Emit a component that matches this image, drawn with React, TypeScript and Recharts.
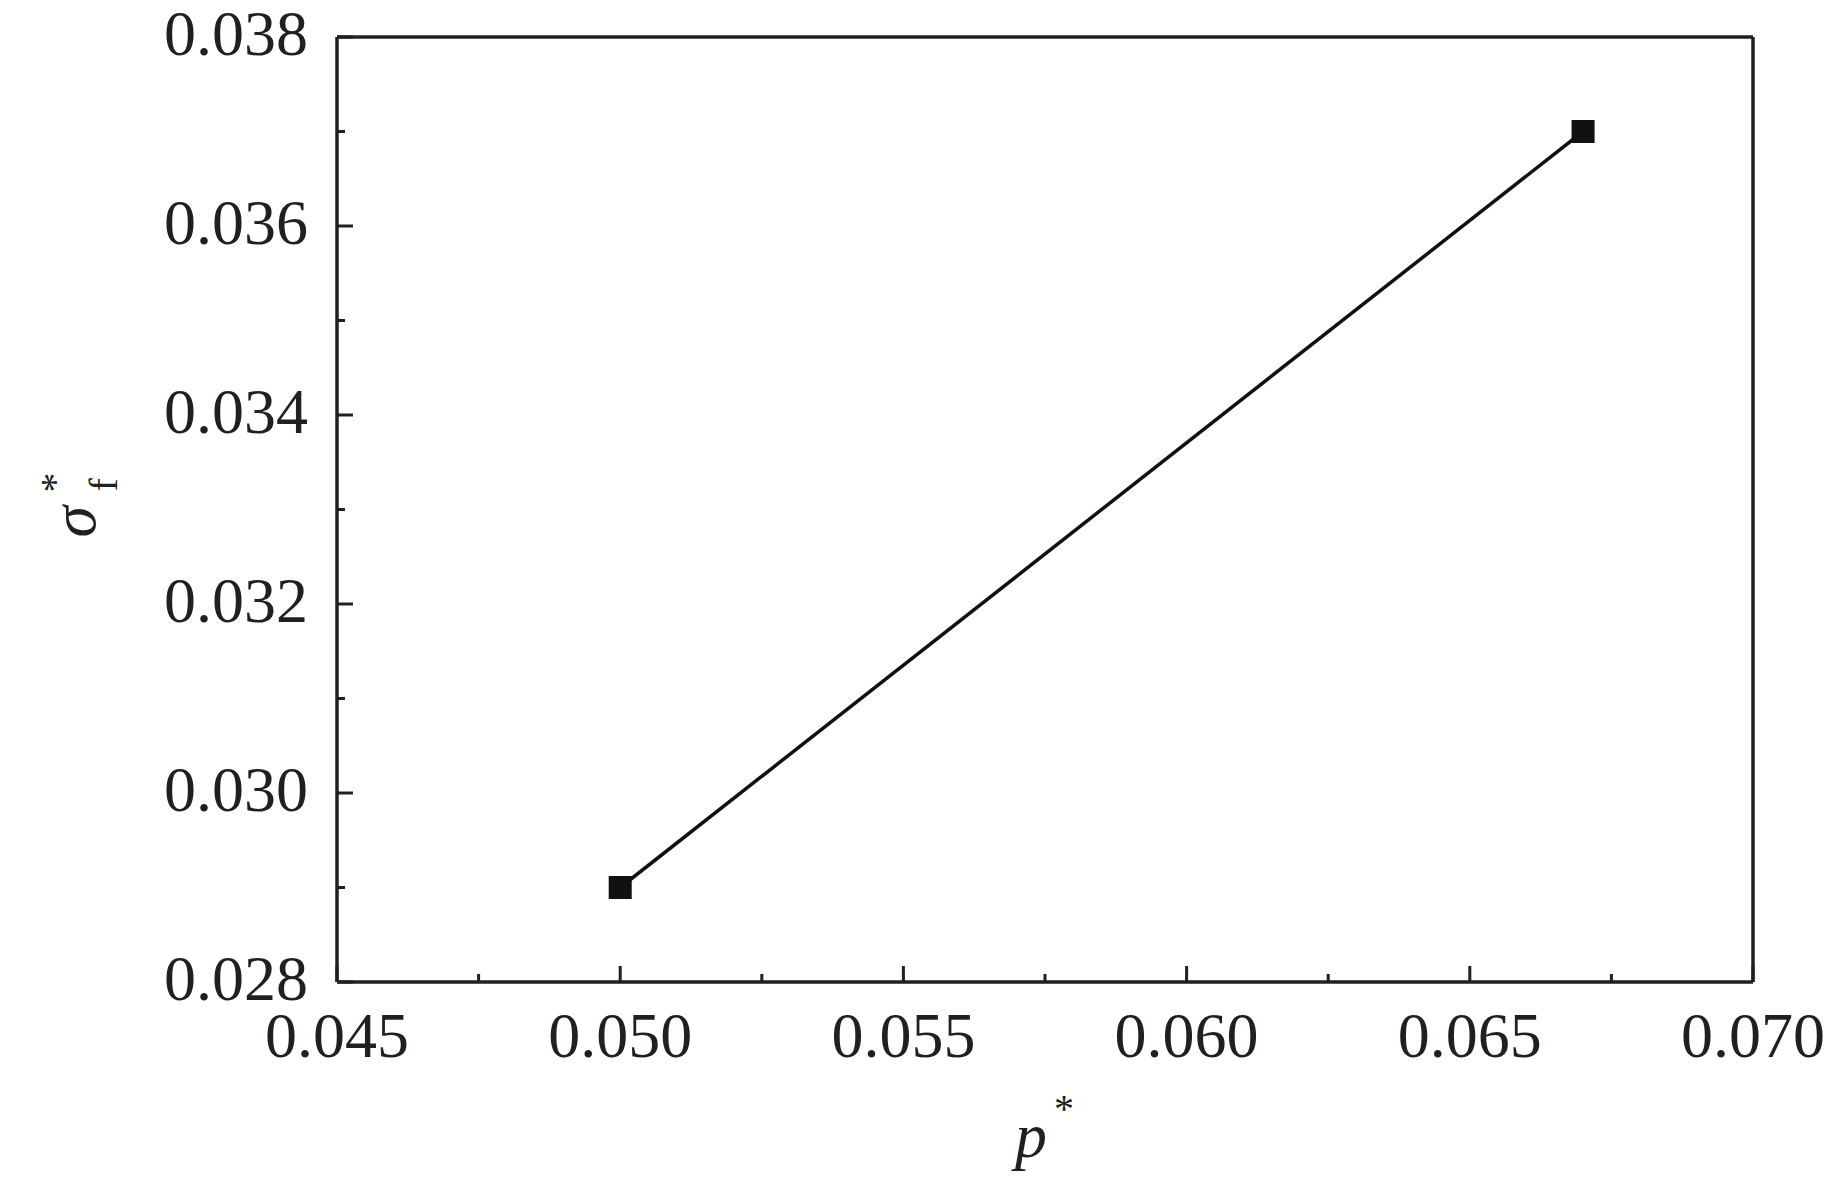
import { Line, LineChart, ReferenceLine, XAxis, YAxis } from "recharts";

const pStar = [0.05, 0.067];
const sigmaF = [0.029, 0.037];

const xMajor = [0.045, 0.05, 0.055, 0.06, 0.065, 0.07];
const xMinor = [0.0475, 0.0525, 0.0575, 0.0625, 0.0675];
const yMajor = [0.028, 0.03, 0.032, 0.034, 0.036, 0.038];
const yMinor = [0.029, 0.031, 0.033, 0.035, 0.037];

const data = pStar.map((p, i) => ({ p, s: sigmaF[i] }));

const INK = "#231f20";
const FONT = "'Liberation Serif', 'Times New Roman', serif";

const isMajor = (list: number[], v: number) =>
  list.some((m) => Math.abs(m - v) < 1e-9);

function XTick(props: any) {
  const { x, y, payload } = props;
  const major = isMajor(xMajor, payload.value);
  return (
    <g>
      <line x1={x} x2={x} y1={y} y2={y - (major ? 16 : 8)} stroke={INK} strokeWidth={3} />
      {major && (
        <text x={x} y={y + 75} textAnchor="middle" fontSize={64} fontFamily={FONT} fill={INK}>
          {payload.value.toFixed(3)}
        </text>
      )}
    </g>
  );
}

function YTick(props: any) {
  const { x, y, payload } = props;
  const major = isMajor(yMajor, payload.value);
  return (
    <g>
      <line x1={x} x2={x + (major ? 16 : 8)} y1={y} y2={y} stroke={INK} strokeWidth={3} />
      {major && (
        <text x={x - 29} y={y + 18} textAnchor="end" fontSize={64} fontFamily={FONT} fill={INK}>
          {payload.value.toFixed(3)}
        </text>
      )}
    </g>
  );
}

function SquareDot(props: any) {
  const { cx, cy } = props;
  if (cx == null || cy == null) return null;
  return <rect x={cx - 11.5} y={cy - 11.5} width={23} height={23} fill="#111" />;
}

function XLabel(props: any) {
  const vb = props.viewBox || { x: 0, y: 0, width: 0 };
  const cx = vb.x + vb.width / 2;
  return (
    <text fontFamily={FONT} fill={INK}>
      <tspan x={cx - 30} y={vb.y + 175} fontSize={64} fontStyle="italic">
        p
      </tspan>
      <tspan x={cx + 9} y={vb.y + 140} fontSize={40}>
        *
      </tspan>
    </text>
  );
}

function YLabel(props: any) {
  const vb = props.viewBox || { x: 0, y: 0, height: 0 };
  const cy = vb.y + vb.height / 2 + 7;
  return (
    <g transform={`translate(${vb.x - 42}, ${cy}) rotate(-90)`}>
      <text x={-21} y={0} fontSize={64} fontStyle="italic" fontFamily={FONT} fill={INK}>
        σ
      </text>
      <text x={24} y={-27} fontSize={40} fontFamily={FONT} fill={INK}>
        *
      </text>
      <text x={25} y={22} fontSize={40} fontFamily={FONT} fill={INK}>
        f
      </text>
    </g>
  );
}

export default function App() {
  return (
    <div style={{ width: 1827, height: 1169, background: "#fff" }}>
      <LineChart
        width={1827}
        height={1169}
        data={data}
        margin={{ top: 29, right: 82, bottom: 95, left: 129 }}
        style={{ overflow: "visible" }}
      >
        <XAxis
          dataKey="p"
          type="number"
          domain={[0.045, 0.07]}
          ticks={[...xMajor, ...xMinor].sort((a, b) => a - b)}
          interval={0}
          tickSize={0}
          tickMargin={0}
          tickLine={false}
          tick={<XTick />}
          axisLine={{ stroke: INK, strokeWidth: 3.5 }}
          height={100}
          allowDataOverflow
          label={<XLabel />}
        />
        <YAxis
          dataKey="s"
          type="number"
          domain={[0.028, 0.038]}
          ticks={[...yMajor, ...yMinor].sort((a, b) => a - b)}
          interval={0}
          tickSize={0}
          tickMargin={0}
          tickLine={false}
          tick={<YTick />}
          axisLine={{ stroke: INK, strokeWidth: 3.5 }}
          width={200}
          allowDataOverflow
          label={<YLabel />}
        />
        <ReferenceLine x={0.07} stroke={INK} strokeWidth={3.5} />
        <ReferenceLine y={0.038} stroke={INK} strokeWidth={3.5} />
        <Line
          dataKey="s"
          stroke="#111"
          strokeWidth={3.5}
          dot={<SquareDot />}
          activeDot={false}
          isAnimationActive={false}
        />
      </LineChart>
    </div>
  );
}
